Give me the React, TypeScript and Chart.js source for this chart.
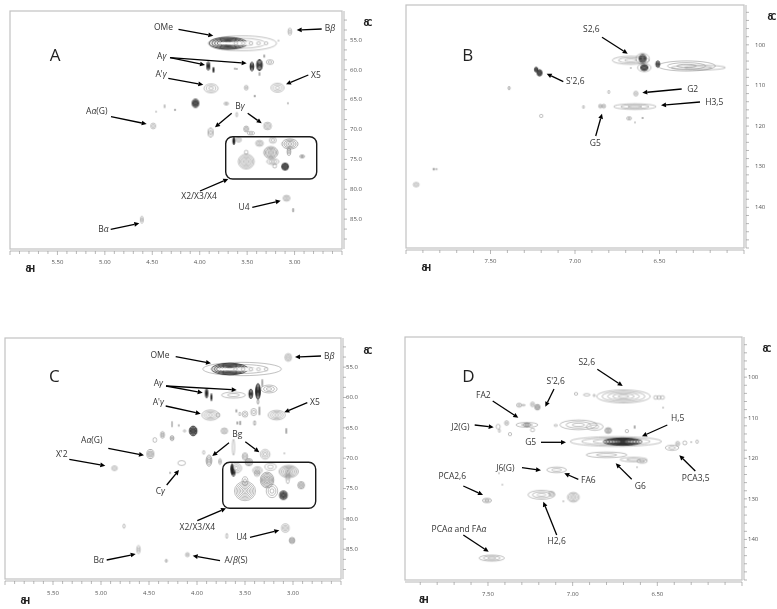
import React, { useEffect, useRef } from "react";
import { Chart, registerables } from "chart.js";

Chart.register(...registerables);

// Peak = [1H ppm, 13C ppm, half width 1H, half width 13C, contour levels, intensity class]
// intensity: 0 weak, 1 medium, 2 strong, 3 saturated core (blank)
type Peak = number[];

const peaksA: Peak[] = [
  [3.05, 53.6, 0.02, 0.6, 2, 0],
  [3.55, 55.55, 0.36, 1.25, 3, 0],
  [3.7, 55.55, 0.2, 1.0, 7, 2],
  [3.52, 55.55, 0.29, 0.28, 1, 3],
  [3.62, 55.55, 0.02, 0.25, 1, 0],
  [3.54, 55.55, 0.02, 0.25, 1, 0],
  [3.46, 55.55, 0.02, 0.25, 1, 0],
  [3.38, 55.55, 0.02, 0.25, 1, 0],
  [3.3, 55.55, 0.02, 0.25, 1, 0],
  [3.91, 59.35, 0.015, 0.75, 4, 2],
  [3.855, 60.0, 0.006, 0.45, 2, 2],
  [3.63, 59.8, 0.004, 0.12, 1, 1],
  [3.61, 59.85, 0.004, 0.12, 1, 1],
  [3.45, 59.45, 0.02, 0.75, 4, 2],
  [3.37, 59.2, 0.03, 0.95, 5, 2],
  [3.26, 58.7, 0.04, 0.4, 2, 0],
  [3.32, 57.7, 0.004, 0.25, 1, 1],
  [3.37, 60.7, 0.005, 0.3, 1, 1],
  [3.17, 55.1, 0.004, 0.1, 1, 0],
  [3.88, 63.1, 0.075, 0.75, 3, 0],
  [3.18, 63.0, 0.07, 0.75, 3, 0],
  [3.51, 63.0, 0.02, 0.4, 2, 0],
  [4.045, 65.6, 0.035, 0.7, 5, 2],
  [3.42, 64.4, 0.005, 0.2, 1, 1],
  [3.72, 65.65, 0.025, 0.25, 2, 0],
  [3.07, 65.6, 0.006, 0.15, 1, 0],
  [3.61, 67.5, 0.01, 0.4, 1, 0],
  [3.885, 70.5, 0.027, 0.75, 4, 1],
  [3.285, 69.4, 0.042, 0.65, 3, 0],
  [3.51, 69.9, 0.025, 0.5, 3, 1],
  [3.46, 70.6, 0.04, 0.3, 2, 0],
  [4.49, 69.4, 0.026, 0.5, 2, 0],
  [4.37, 66.1, 0.006, 0.3, 1, 0],
  [4.26, 66.7, 0.008, 0.12, 1, 1],
  [4.46, 67.0, 0.004, 0.1, 1, 0],
  [3.64, 71.9, 0.01, 0.65, 4, 2],
  [3.59, 71.7, 0.03, 0.4, 2, 0],
  [3.37, 72.3, 0.042, 0.5, 3, 0],
  [3.23, 71.8, 0.037, 0.5, 2, 0],
  [3.05, 72.4, 0.085, 0.85, 6, 1],
  [3.06, 73.7, 0.02, 0.65, 2, 1],
  [3.25, 73.85, 0.075, 1.0, 7, 1],
  [3.51, 75.35, 0.085, 1.25, 6, 0],
  [3.51, 73.8, 0.02, 0.33, 1, 0],
  [3.23, 75.35, 0.065, 0.5, 3, 0],
  [3.21, 76.1, 0.02, 0.35, 1, 0],
  [3.1, 76.2, 0.037, 0.6, 5, 2],
  [2.92, 74.5, 0.026, 0.25, 2, 1],
  [3.085, 81.5, 0.037, 0.5, 3, 0],
  [3.015, 83.5, 0.007, 0.33, 1, 1],
  [4.61, 85.1, 0.016, 0.6, 3, 0],
];

const peaksB: Peak[] = [
  [6.67, 103.8, 0.11, 1.0, 3, 0],
  [6.34, 105.2, 0.17, 1.25, 3, 0],
  [6.27, 105.6, 0.16, 0.6, 2, 0],
  [6.6, 103.4, 0.04, 1.3, 2, 0],
  [6.6, 103.4, 0.02, 1.05, 4, 2],
  [6.59, 105.6, 0.04, 1.0, 2, 0],
  [6.59, 105.6, 0.022, 0.75, 4, 2],
  [6.51, 104.75, 0.012, 0.8, 3, 2],
  [7.23, 106.1, 0.01, 0.6, 3, 2],
  [7.21, 106.9, 0.015, 0.8, 4, 2],
  [7.39, 110.65, 0.006, 0.4, 2, 1],
  [6.8, 111.6, 0.006, 0.4, 1, 0],
  [6.64, 112.0, 0.013, 0.6, 2, 0],
  [6.85, 115.1, 0.01, 0.5, 2, 0],
  [6.83, 115.1, 0.011, 0.5, 2, 0],
  [6.95, 115.3, 0.005, 0.4, 1, 0],
  [6.646, 115.2, 0.125, 0.7, 3, 0],
  [7.2, 117.5, 0.01, 0.4, 1, 0],
  [6.68, 118.1, 0.015, 0.4, 2, 0],
  [6.6, 118.0, 0.003, 0.2, 1, 1],
  [6.645, 119.1, 0.003, 0.15, 1, 0],
  [6.67, 105.7, 0.003, 0.15, 1, 0],
  [7.836, 130.6, 0.004, 0.3, 1, 1],
  [7.82, 130.6, 0.005, 0.2, 1, 0],
  [7.94, 134.4, 0.018, 0.55, 2, 0],
];

const peaksC: Peak[] = [
  [3.05, 53.4, 0.035, 0.65, 3, 0],
  [3.53, 55.3, 0.41, 1.1, 3, 0],
  [3.66, 55.3, 0.19, 0.95, 7, 2],
  [3.48, 55.35, 0.32, 0.28, 1, 3],
  [3.6, 55.35, 0.02, 0.25, 1, 0],
  [3.52, 55.35, 0.02, 0.25, 1, 0],
  [3.44, 55.35, 0.02, 0.25, 1, 0],
  [3.36, 55.35, 0.02, 0.25, 1, 0],
  [3.28, 55.35, 0.02, 0.25, 1, 0],
  [3.9, 59.3, 0.012, 0.8, 4, 2],
  [3.85, 59.95, 0.006, 0.6, 2, 2],
  [3.62, 59.6, 0.125, 0.5, 2, 0],
  [3.44, 59.4, 0.02, 0.8, 4, 2],
  [3.365, 59.0, 0.025, 1.3, 6, 2],
  [3.32, 57.6, 0.004, 0.6, 1, 1],
  [3.25, 58.6, 0.085, 0.65, 3, 0],
  [3.365, 60.7, 0.01, 0.4, 2, 1],
  [3.86, 62.9, 0.09, 0.85, 4, 0],
  [3.78, 62.9, 0.02, 0.35, 1, 0],
  [3.17, 62.9, 0.09, 0.8, 4, 0],
  [3.59, 62.2, 0.005, 0.25, 1, 1],
  [3.555, 62.7, 0.01, 0.3, 1, 0],
  [3.5, 62.75, 0.03, 0.5, 2, 0],
  [3.41, 62.4, 0.03, 0.6, 2, 0],
  [3.35, 62.2, 0.004, 0.7, 1, 1],
  [3.58, 64.2, 0.004, 0.25, 1, 1],
  [3.55, 64.2, 0.004, 0.35, 1, 1],
  [3.4, 64.2, 0.01, 0.4, 2, 1],
  [3.07, 65.5, 0.004, 0.45, 1, 1],
  [4.04, 65.5, 0.04, 0.8, 6, 2],
  [4.13, 65.5, 0.012, 0.2, 1, 0],
  [3.715, 65.5, 0.035, 0.5, 3, 0],
  [3.62, 68.2, 0.012, 1.3, 2, 0],
  [3.875, 70.4, 0.03, 0.9, 5, 1],
  [3.93, 69.05, 0.012, 0.3, 1, 0],
  [3.76, 70.55, 0.015, 0.5, 2, 0],
  [3.29, 69.35, 0.05, 0.8, 3, 0],
  [3.5, 69.7, 0.03, 0.6, 3, 0],
  [3.46, 70.65, 0.04, 0.6, 3, 1],
  [3.09, 69.2, 0.004, 0.1, 1, 0],
  [4.16, 70.8, 0.04, 0.4, 1, 0],
  [4.28, 72.4, 0.004, 0.2, 1, 0],
  [3.59, 71.65, 0.055, 0.8, 3, 0],
  [3.635, 71.8, 0.012, 0.9, 4, 2],
  [3.37, 72.0, 0.05, 0.6, 3, 0],
  [3.235, 71.4, 0.06, 0.6, 2, 0],
  [3.045, 72.2, 0.1, 1.0, 6, 1],
  [3.5, 75.4, 0.11, 1.6, 7, 0],
  [3.5, 73.75, 0.03, 0.7, 2, 0],
  [3.27, 73.6, 0.07, 1.3, 7, 1],
  [3.22, 75.4, 0.06, 1.1, 3, 0],
  [3.1, 76.1, 0.04, 0.7, 5, 2],
  [3.055, 73.1, 0.02, 1.1, 2, 0],
  [2.915, 74.45, 0.035, 0.6, 4, 1],
  [3.375, 72.5, 0.03, 0.5, 2, 0],
  [3.62, 72.4, 0.015, 0.6, 3, 2],
  [3.08, 81.5, 0.04, 0.7, 3, 0],
  [3.01, 83.55, 0.03, 0.5, 3, 1],
  [3.69, 82.8, 0.01, 0.45, 2, 0],
  [4.61, 85.05, 0.018, 0.7, 3, 0],
  [4.1, 85.9, 0.02, 0.35, 2, 0],
  [4.32, 86.9, 0.01, 0.25, 2, 1],
  [4.76, 81.2, 0.012, 0.35, 2, 0],
  [4.486, 69.3, 0.035, 0.75, 4, 1],
  [4.44, 67.0, 0.02, 0.4, 1, 0],
  [4.36, 66.15, 0.02, 0.55, 3, 1],
  [4.26, 66.7, 0.02, 0.4, 3, 1],
  [4.26, 64.4, 0.006, 0.5, 1, 0],
  [4.19, 64.6, 0.004, 0.2, 1, 0],
  [4.86, 71.65, 0.03, 0.4, 2, 0],
];

const peaksD: Peak[] = [
  [7.316, 106.9, 0.016, 0.5, 2, 0],
  [7.29, 106.9, 0.01, 0.2, 1, 0],
  [7.237, 106.7, 0.012, 0.6, 2, 0],
  [7.208, 107.4, 0.016, 0.7, 3, 1],
  [7.39, 111.3, 0.012, 0.6, 2, 0],
  [7.44, 112.2, 0.012, 0.6, 1, 0],
  [7.433, 113.2, 0.006, 0.4, 1, 0],
  [7.37, 114.05, 0.01, 0.4, 1, 0],
  [7.27, 111.75, 0.065, 0.6, 3, 0],
  [7.27, 111.75, 0.02, 0.45, 3, 1],
  [7.237, 113.0, 0.012, 0.45, 1, 0],
  [7.506, 130.4, 0.026, 0.5, 3, 1],
  [7.478, 144.6, 0.075, 0.75, 3, 0],
  [7.1, 111.9, 0.01, 0.25, 1, 0],
  [6.966, 111.75, 0.11, 1.2, 3, 0],
  [6.87, 112.2, 0.05, 0.9, 2, 0],
  [6.79, 113.15, 0.02, 0.7, 4, 1],
  [6.98, 104.1, 0.01, 0.35, 1, 0],
  [6.917, 104.35, 0.02, 0.3, 1, 0],
  [6.873, 104.5, 0.006, 0.3, 1, 0],
  [6.745, 115.85, 0.27, 1.2, 4, 0],
  [6.705, 115.9, 0.115, 0.9, 7, 2],
  [6.8, 119.15, 0.12, 0.7, 2, 0],
  [6.64, 120.3, 0.08, 0.55, 3, 0],
  [6.59, 120.7, 0.03, 0.5, 3, 0],
  [6.7, 104.75, 0.158, 1.6, 5, 0],
  [6.51, 105.0, 0.012, 0.45, 1, 0],
  [6.49, 105.0, 0.012, 0.45, 1, 0],
  [6.47, 105.0, 0.012, 0.45, 1, 0],
  [6.466, 107.5, 0.003, 0.15, 1, 0],
  [6.634, 112.3, 0.003, 0.4, 1, 1],
  [6.68, 113.3, 0.01, 0.4, 1, 0],
  [6.413, 117.4, 0.04, 0.65, 2, 0],
  [6.38, 116.4, 0.012, 0.6, 2, 0],
  [6.338, 116.2, 0.012, 0.5, 1, 0],
  [6.265, 115.9, 0.008, 0.4, 1, 0],
  [6.3, 116.0, 0.003, 0.15, 1, 0],
  [7.095, 122.85, 0.058, 0.7, 2, 0],
  [7.184, 129.0, 0.08, 1.1, 3, 0],
  [7.125, 128.75, 0.018, 0.6, 2, 0],
  [6.996, 129.6, 0.035, 1.2, 4, 0],
  [7.055, 130.6, 0.003, 0.15, 1, 0],
  [7.415, 126.5, 0.003, 0.1, 1, 0],
  [7.435, 123.7, 0.003, 0.1, 1, 0],
  [6.62, 122.2, 0.003, 0.1, 1, 0],
];

// Annotation layout, in page pixels (not data)
const labelsA: [string, number, number][] = [["OMe", 163.5, 28], ["Bβ", 330, 29], ["Aγ", 161.7, 56.7], ["A'γ", 161, 75], ["X5", 316, 75.3], ["Bγ", 240, 106.7], ["Aα(G)", 96.7, 111.7], ["X2/X3/X4", 199, 196.7], ["U4", 244, 207.7], ["Bα", 103.3, 230]];
const arrowsA: number[][] = [[178.5, 29.3, 213.3, 35.7], [321.7, 29, 296.7, 30], [170, 57.7, 205, 65], [170, 57.7, 246.7, 63.3], [168.3, 78.3, 203.3, 84.7], [308.3, 75, 286, 84.3], [231.7, 113.3, 215, 127.3], [247.7, 113.3, 261.7, 123.3], [111, 116.7, 146.7, 124], [200, 191, 228.3, 179], [252.3, 207.3, 280.7, 200.7], [110.7, 229.3, 139.3, 223.3]];
const labelsB: [string, number, number][] = [["S2,6", 591.3, 30], ["S'2,6", 575.3, 81.7], ["G2", 692.7, 89.7], ["H3,5", 714.3, 102.3], ["G5", 595.3, 143.3]];
const arrowsB: number[][] = [[602, 37.3, 627.7, 53.7], [563.3, 81.7, 546.7, 73.7], [681.7, 89, 642.3, 92.7], [700, 102, 661, 105.3], [595.7, 136, 602, 113.7]];
const labelsC: [string, number, number][] = [["OMe", 160, 355.7], ["Bβ", 329.3, 356.3], ["Aγ", 158.3, 383.3], ["A'γ", 158.3, 402.7], ["X5", 315, 403], ["Bg", 237.3, 435], ["Aα(G)", 91.7, 440.3], ["X'2", 61.7, 455], ["Cγ", 160.3, 491.7], ["X2/X3/X4", 197.3, 527.7], ["U4", 241.7, 537.7], ["Bα", 98.7, 560.7], ["A/β(S)", 236, 560.7]];
const arrowsC: number[][] = [[175.7, 356.7, 211, 363.3], [321, 356, 295, 357], [166, 386, 202.7, 392.7], [166, 386, 236.7, 390], [165.7, 406, 200.7, 413.7], [307.3, 402.7, 284.3, 412.3], [229, 442.7, 212.3, 456], [245.3, 441.7, 259.3, 452.3], [108.3, 448.3, 144, 455.3], [69.3, 459.3, 105.3, 465.7], [166.7, 485, 179, 470], [197.3, 520.7, 226, 508.3], [250, 537.3, 279.3, 530.3], [106.7, 560, 135.7, 554], [220, 560.7, 192.7, 555.7]];
const labelsD: [string, number, number][] = [["S2,6", 586.7, 362.7], ["S'2,6", 555.7, 381.7], ["FA2", 483.3, 395.7], ["J2(G)", 460.3, 427.3], ["G5", 530.7, 442.7], ["H,5", 677.7, 418.7], ["J6(G)", 505.3, 468.3], ["FA6", 588.3, 480.7], ["PCA2,6", 452.3, 476.7], ["PCAα and FAα", 459, 529.3], ["H2,6", 556.7, 542], ["G6", 640.3, 486.7], ["PCA3,5", 695.7, 478.7]];
const arrowsD: number[][] = [[597.3, 369.3, 622.7, 386], [554, 389, 545.3, 406.7], [492.7, 401, 518.3, 417.7], [474.7, 425, 493.7, 427.3], [541, 442.3, 566, 442.3], [667.3, 425, 642, 436.3], [522, 467.7, 541, 470.3], [578.3, 479.3, 564.3, 473.3], [463.3, 486, 483, 495], [463.3, 535, 488.7, 551.7], [556.7, 535, 543.3, 501.7], [631.7, 479.3, 615.7, 463.3], [695.3, 471, 679.3, 455.3]];

const INK = ["#8c8c8c", "#646464", "#202020", "#ffffff"];

function makeContour(raw: any, chart: any): HTMLCanvasElement {
  const sx = chart.scales.x;
  const sy = chart.scales.y;
  const kx = sx && sx.width > 0 ? sx.width / Math.abs(sx.max - sx.min) : 1;
  const ky = sy && sy.height > 0 ? sy.height / Math.abs(sy.max - sy.min) : 1;
  const rx = Math.max(0.5, raw.wH * kx);
  const ry = Math.max(0.5, raw.wC * ky);
  const c = document.createElement("canvas");
  c.width = Math.ceil(rx) * 2 + 4;
  c.height = Math.ceil(ry) * 2 + 4;
  const g = c.getContext("2d")!;
  const ink = INK[raw.intensity];
  g.strokeStyle = ink;
  g.fillStyle = ink;
  g.lineWidth = raw.intensity === 2 ? 0.8 : 0.55;
  if (raw.intensity === 3) {
    g.beginPath();
    g.ellipse(c.width / 2, c.height / 2, rx, ry, 0, 0, Math.PI * 2);
    g.fill();
    return c;
  }
  // weak, small signals stay open rings rather than merging into a blot
  const rings = raw.intensity < 2 ? Math.min(raw.levels, Math.floor(Math.min(rx, ry) / 1.3) + 1) : raw.levels;
  for (let i = 0; i < rings; i++) {
    const f = 1 - i / rings;
    g.beginPath();
    g.ellipse(c.width / 2, c.height / 2, Math.max(0.3, rx * f), Math.max(0.3, ry * f), 0, 0, Math.PI * 2);
    g.stroke();
  }
  return c;
}

const FONT = '"Open Sans", sans-serif';

function drawLabel(g: CanvasRenderingContext2D, text: string, x: number, y: number) {
  const parts = text.split(/([α-ω])/).filter(Boolean);
  const fonts = parts.map((p) => (/^[α-ω]$/.test(p) ? `italic 8.5px ${FONT}` : `8.5px ${FONT}`));
  let w = 0;
  parts.forEach((p, i) => {
    g.font = fonts[i];
    w += g.measureText(p).width;
  });
  let cx = x - w / 2;
  g.textAlign = "left";
  g.textBaseline = "middle";
  parts.forEach((p, i) => {
    g.font = fonts[i];
    g.fillText(p, cx, y);
    cx += g.measureText(p).width;
  });
}

interface Panel {
  peaks: Peak[];
  letter: string;
  letterAt: number[];
  labels: [string, number, number][];
  arrows: number[][];
  dC: number[];
  dH: number[];
  box?: number[];
  offset: number[];
  size: number[];
  area: number[];
  xRange: number[];
  yRange: number[];
  xStep: number;
  yStep: number;
  yMinor: number;
  yDigits: number;
  xPad: number;
  yPad: number;
}

const panels: Panel[] = [
  { peaks: peaksA, letter: "A", letterAt: [55, 56], labels: labelsA, arrows: arrowsA, dC: [366.7, 24.3], dH: [29, 270], box: [225.7, 136.7, 316.7, 179], offset: [0, 0], size: [388, 300], area: [10, 11, 342, 249], xRange: [6.0, 2.5], yRange: [50.15, 90], xStep: 0.5, yStep: 5, yMinor: 3, yDigits: 1, xPad: 2, yPad: 0 },
  { peaks: peaksB, letter: "B", letterAt: [467.7, 56], labels: labelsB, arrows: arrowsB, dC: [770.7, 18.3], dH: [425, 269.3], offset: [380, -12], size: [397, 312], area: [26, 17, 364, 260], xRange: [8.0, 6.0], yRange: [90.2, 150], xStep: 0.5, yStep: 10, yMinor: 5, yDigits: 0, xPad: 2, yPad: 3 },
  { peaks: peaksC, letter: "C", letterAt: [54.3, 376.7], labels: labelsC, arrows: arrowsC, dC: [366.7, 351.7], dH: [24, 601.7], box: [222.7, 462.3, 315.7, 508.3], offset: [0, 320], size: [388, 289], area: [5, 18, 341, 259], xRange: [6.0, 2.5], yRange: [50.2, 89.9], xStep: 0.5, yStep: 5, yMinor: 3, yDigits: 1, xPad: 3, yPad: -3 },
  { peaks: peaksD, letter: "D", letterAt: [468.3, 376.7], labels: labelsD, arrows: arrowsD, dC: [765.7, 350], dH: [422.7, 601], offset: [400, 320], size: [377, 289], area: [5, 17, 342, 260], xRange: [7.99, 6.0], yRange: [90.1, 150], xStep: 0.5, yStep: 10, yMinor: 5, yDigits: 0, xPad: 3, yPad: -2 },
];

function frameAxes(p: Panel) {
  return {
    id: "frameAxes",
    beforeDatasetsDraw(chart: any) {
      const g: CanvasRenderingContext2D = chart.ctx;
      const { left, top, right, bottom } = chart.chartArea;
      g.save();
      g.strokeStyle = "#c2c2c2";
      g.lineWidth = 1.2;
      g.strokeRect(left, top, right - left, bottom - top);
      g.strokeStyle = "#9a9a9a";
      g.lineWidth = 0.7;
      const ax = bottom + 2;
      const ay = right + 2;
      g.beginPath();
      g.moveTo(left, ax);
      g.lineTo(right, ax);
      g.moveTo(ay, top);
      g.lineTo(ay, bottom);
      const sx = chart.scales.x;
      const sy = chart.scales.y;
      const stepX = p.xStep / 5;
      for (let v = Math.min(...p.xRange); v <= Math.max(...p.xRange) + 1e-6; v += stepX) {
        const major = Math.abs(v / p.xStep - Math.round(v / p.xStep)) < 1e-6;
        const px = sx.getPixelForValue(v);
        if (px < left - 1 || px > right + 1) continue;
        g.moveTo(px, ax);
        g.lineTo(px, ax + (major ? 4 : 3));
      }
      const stepY = p.yStep / p.yMinor;
      for (let v = Math.ceil(p.yRange[0] / p.yStep) * p.yStep - p.yStep; v <= p.yRange[1]; v += stepY) {
        if (v < p.yRange[0]) continue;
        const py = sy.getPixelForValue(v);
        g.moveTo(ay, py);
        g.lineTo(ay + 3, py);
      }
      g.stroke();
      g.restore();
    },
    afterDatasetsDraw(chart: any) {
      const g: CanvasRenderingContext2D = chart.ctx;
      const [ox, oy] = p.offset;
      g.save();
      g.translate(-ox, -oy);
      if (p.box) {
        const [x1, y1, x2, y2] = p.box;
        g.strokeStyle = "#1a1a1a";
        g.lineWidth = 1.4;
        g.beginPath();
        g.roundRect(x1, y1, x2 - x1, y2 - y1, 7);
        g.stroke();
      }
      g.strokeStyle = "#000";
      g.fillStyle = "#000";
      for (const [x1, y1, x2, y2] of p.arrows) {
        const a = Math.atan2(y2 - y1, x2 - x1);
        const bx = x2 - 5 * Math.cos(a);
        const by = y2 - 5 * Math.sin(a);
        g.lineWidth = 1.3;
        g.beginPath();
        g.moveTo(x1, y1);
        g.lineTo(bx, by);
        g.stroke();
        g.beginPath();
        g.moveTo(x2, y2);
        g.lineTo(bx - 2.4 * Math.sin(a), by + 2.4 * Math.cos(a));
        g.lineTo(bx + 2.4 * Math.sin(a), by - 2.4 * Math.cos(a));
        g.closePath();
        g.fill();
      }
      g.fillStyle = "#333";
      for (const [t, x, y] of p.labels) drawLabel(g, t, x, y);
      g.fillStyle = "#222";
      g.textAlign = "center";
      g.textBaseline = "middle";
      g.font = `17px ${FONT}`;
      g.fillText(p.letter, p.letterAt[0], p.letterAt[1]);
      g.font = `bold 8px "DejaVu Sans", sans-serif`;
      (g as any).letterSpacing = "-2.5px";
      g.fillText("δC", p.dC[0], p.dC[1]);
      g.fillText("δH", p.dH[0], p.dH[1]);
      g.restore();
    },
  };
}

function PanelChart({ p }: { p: Panel }) {
  const ref = useRef<HTMLCanvasElement>(null);
  useEffect(() => {
    const [L, T, R, B] = p.area;
    const [W, H] = p.size;
    const chart = new Chart(ref.current!, {
      type: "scatter",
      data: {
        datasets: [
          {
            data: p.peaks.map(([x, y, wH, wC, levels, intensity]) => ({ x, y, wH, wC, levels, intensity })) as any,
            pointRadius: 1,
            pointBorderWidth: 0,
            pointStyle: ((ctx: any) => makeContour(ctx.raw, ctx.chart)) as any,
            clip: false as any,
          },
        ],
      },
      plugins: [frameAxes(p)],
      options: {
        animation: false,
        responsive: false,
        events: [],
        layout: { autoPadding: false, padding: { left: L, top: T, right: 0, bottom: 0 } },
        plugins: { legend: { display: false }, tooltip: { enabled: false } },
        scales: {
          x: {
            type: "linear",
            reverse: true,
            min: Math.min(...p.xRange),
            max: Math.max(...p.xRange),
            grid: { display: false },
            border: { display: false },
            afterFit: (s: any) => {
              s.height = H - B;
            },
            ticks: {
              stepSize: p.xStep,
              autoSkip: false,
              maxRotation: 0,
              padding: p.xPad,
              includeBounds: false,
              color: "#555",
              font: { size: 6, family: FONT },
              callback: (v: any) => {
                const n = Number(v);
                const hi = Math.max(...p.xRange) - 0.2;
                const lo = Math.min(...p.xRange) + 0.2;
                return n > hi || n < lo ? "" : n.toFixed(2);
              },
            },
          },
          y: {
            type: "linear",
            position: "right",
            reverse: true,
            min: p.yRange[0],
            max: p.yRange[1],
            grid: { display: false },
            border: { display: false },
            afterFit: (s: any) => {
              s.width = W - R;
            },
            ticks: {
              stepSize: p.yStep,
              autoSkip: false,
              padding: p.yPad,
              includeBounds: false,
              color: "#555",
              font: { size: 6, family: FONT },
              callback: (v: any) => {
                const n = Number(v);
                return n >= p.yRange[1] - 0.5 || n <= p.yRange[0] + 0.5 ? "" : n.toFixed(p.yDigits);
              },
            },
          },
        },
      },
    } as any);
    return () => chart.destroy();
  }, [p]);
  return (
    <canvas
      ref={ref}
      width={p.size[0]}
      height={p.size[1]}
      style={{
        position: "absolute",
        left: p.offset[0],
        top: p.offset[1],
        width: p.size[0],
        height: p.size[1],
        filter: "blur(0.35px)",
      }}
    />
  );
}

export default function App() {
  return (
    <div style={{ position: "absolute", left: 0, top: 0, width: 777, height: 609, background: "#fff", overflow: "hidden" }}>
      {panels.map((p) => (
        <PanelChart key={p.letter} p={p} />
      ))}
    </div>
  );
}
